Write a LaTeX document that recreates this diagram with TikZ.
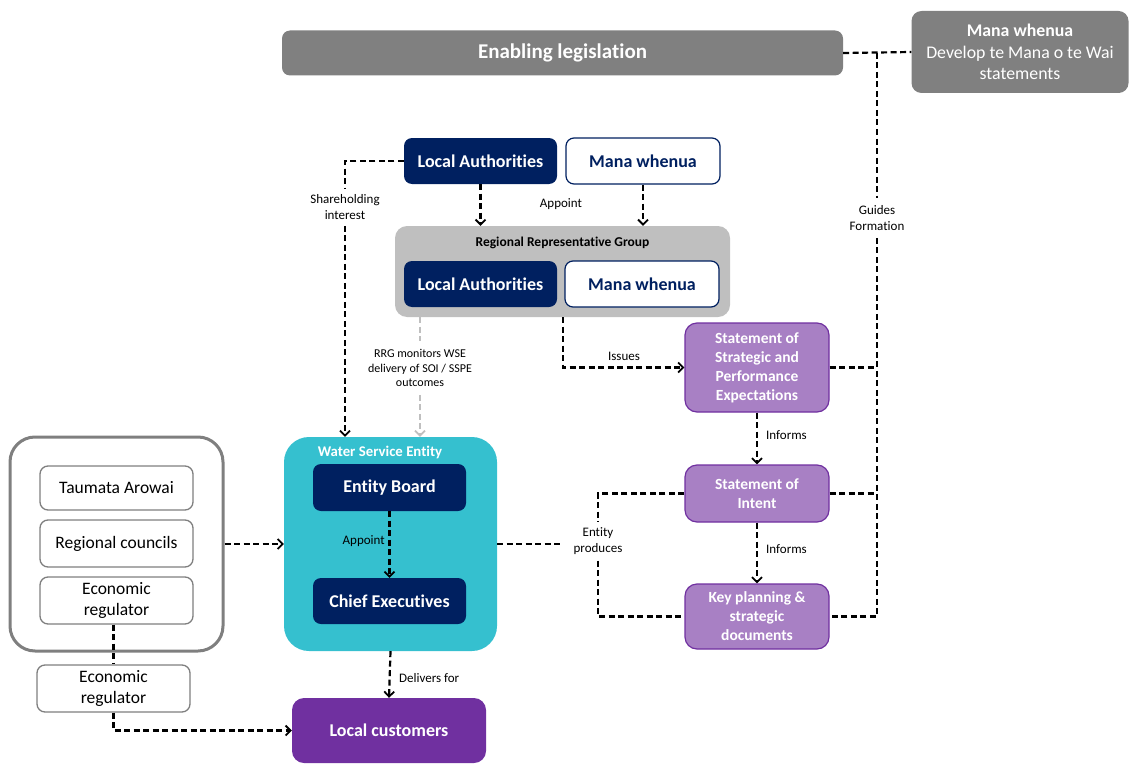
\documentclass[tikz,border=0pt]{standalone}
\usepackage{fontspec}
\setmainfont{Carlito}[Ligatures=NoCommon]
\usetikzlibrary{arrows.meta}
\definecolor{navy}{HTML}{002060}
\definecolor{leggray}{HTML}{808080}
\definecolor{rrggray}{HTML}{BFBFBF}
\definecolor{teal}{HTML}{35C0CF}
\definecolor{lpurple}{HTML}{A880C4}
\definecolor{dpurple}{HTML}{7030A0}
\definecolor{bgray}{HTML}{7F7F7F}
\begin{document}
\begin{tikzpicture}[x=1pt,y=-1pt,
  box/.style={rectangle, rounded corners=8pt, inner sep=2pt, align=center},
  graybox/.style={box, fill=leggray, text=white},
  navybox/.style={box, fill=navy, text=white, font=\bfseries\fontsize{18}{21}\selectfont},
  whitebox/.style={box, fill=white, draw=navy, line width=1.2pt, text=navy, font=\bfseries\fontsize{18}{21}\selectfont},
  purplebox/.style={box, rounded corners=12pt, fill=lpurple, draw=dpurple, line width=1.2pt, text=white, font=\bfseries\fontsize{15.5}{19}\selectfont},
  regbox/.style={box, fill=white, draw=bgray, line width=1.3pt, text=black, font=\fontsize{17.5}{21.5}\selectfont},
  lbl/.style={align=center, text=black, font=\fontsize{13}{16}\selectfont, inner sep=0pt},
  dl/.style={line width=2.2pt, dash pattern=on 6pt off 3.5pt},
  arr/.style={-{Straight Barb[length=5pt,width=10pt,line width=1.8pt]}}
]
\path[use as bounding box] (0,0) rectangle (1129,765);

% top
\node[graybox, minimum width=561pt, minimum height=45pt, font=\bfseries\fontsize{21}{24}\selectfont] (leg) at (562.5,53) {Enabling legislation};
\node[graybox, rounded corners=10pt, minimum width=217pt, minimum height=82pt, font=\fontsize{17.8}{21.5}\selectfont] (mwtr) at (1020,52) {\textbf{Mana whenua}\\Develop te Mana o te Wai\\statements};

% local authorities / mana whenua
\node[navybox, minimum width=153pt, minimum height=46pt] (latop) at (480.5,161) {Local Authorities};
\node[whitebox, minimum width=154pt, minimum height=46pt] (mwtop) at (643,161) {Mana whenua};

\node[box, rounded corners=12pt, fill=rrggray, minimum width=335pt, minimum height=91pt] (rrg) at (562.5,271.5) {};
\node[font=\bfseries\fontsize{13.5}{16}\selectfont, text=black] (rrgt) at (562.5,243) {Regional Representative Group};
\node[navybox, minimum width=153pt, minimum height=46pt] (lain) at (480.5,284) {Local Authorities};
\node[whitebox, minimum width=154pt, minimum height=46pt] (mwin) at (642,284) {Mana whenua};

% statements
\node[purplebox, minimum width=144pt, minimum height=89pt] (sspe) at (757,367.5) {Statement of\\Strategic and\\Performance\\Expectations};
\node[purplebox, minimum width=144pt, minimum height=57pt] (soi) at (757,493.5) {Statement of\\Intent};
\node[purplebox, minimum width=144pt, minimum height=65pt] (kp) at (757,616.5) {Key planning \&\\strategic\\documents};

% water service entity
\node[box, rounded corners=25pt, fill=teal, minimum width=213pt, minimum height=214pt] (wse) at (390.5,544) {};
\node[font=\bfseries\fontsize{14.8}{17}\selectfont, text=white] (wset) at (380,452) {Water Service Entity};
\node[navybox, minimum width=153pt, minimum height=47pt] (eb) at (389.5,487.5) {Entity Board};
\node[navybox, minimum width=153pt, minimum height=46pt] (ce) at (389.5,601) {Chief Executives};

% regulators group
\node[box, rounded corners=25pt, draw=bgray, line width=3pt, minimum width=213pt, minimum height=214pt] (grp) at (116.5,544) {};
\node[regbox, minimum width=153pt, minimum height=44pt] (ta) at (116.5,488) {Taumata Arowai};
\node[regbox, minimum width=153pt, minimum height=47pt] (rc) at (116.5,543.5) {Regional councils};
\node[regbox, minimum width=153pt, minimum height=47pt] (er) at (116.5,600.5) {Economic\\regulator};
\node[regbox, minimum width=153pt, minimum height=47pt] (er2) at (113.5,688.5) {Economic\\regulator};

\node[box, rounded corners=12pt, fill=dpurple, text=white, font=\bfseries\fontsize{18}{21}\selectfont, minimum width=194pt, minimum height=65pt] (lc) at (389,730.5) {Local customers};

% labels
\node[lbl, inner ysep=7pt] (guides) at (877,218) {Guides\\Formation};
\node[lbl, inner ysep=6pt] (share) at (345,207) {Shareholding\\interest};
\node[lbl] (appt) at (561,204) {Appoint};
\node[lbl, inner ysep=8pt, font=\fontsize{12}{14.5}\selectfont] (mon) at (420,368) {RRG monitors WSE\\delivery of SOI / SSPE\\outcomes};
\node[lbl] (iss) at (624,356) {Issues};
\node[lbl, anchor=west] (inf1) at (766,435) {Informs};
\node[lbl, anchor=west] (inf2) at (766,549) {Informs};
\node[lbl, inner xsep=12pt, inner ysep=6pt] (ep) at (598,541) {Entity\\produces};
\node[lbl, anchor=east] (appt2) at (385,541) {Appoint};
\node[lbl, anchor=west] (deliv) at (399,678) {Delivers for};

% connectors
\coordinate (g0) at (877,53);
\draw[dl] (leg.east) -- (mwtr.west);
\draw[dl] (g0) -- (guides.north);
\draw[dl] (guides.south) |- (kp.east);
\draw[dl] (sspe.east) -- (sspe.east -| g0);
\draw[dl] (soi.east) -- (soi.east -| g0);

\draw[dl] (latop.west) -| (share.north);
\draw[dl, arr] (share.south) -- (share.south |- wse.north);

\draw[dl, arr] (latop.south) -- (latop.south |- rrg.north);
\draw[dl, arr] (mwtop.south) -- (mwtop.south |- rrg.north);

\draw[dl, rrggray] (mon.north |- rrg.south) -- (mon.north);
\draw[dl, arr, rrggray] (mon.south) -- (mon.south |- wse.north);

\coordinate (issc) at (563,317);
\draw[dl, arr] (issc) |- (sspe.west);

\draw[dl, arr] (sspe.south) -- (soi.north);
\draw[dl, arr] (soi.south) -- (kp.north);

\draw[dl] (soi.west) -| (ep.north);
\draw[dl] (ep.south) |- (kp.west);
\draw[dl] (wse.east) -- (wse.east -| ep.west);

\draw[dl, arr] (eb.south) -- (ce.north);
\draw[dl, arr] (wse.south) -- (lc.north);

\draw[dl, arr] (grp.east) -- (wse.west);
\draw[dl] (er2.north |- er.south) -- (er2.north);
\draw[dl, arr] (er2.south) |- (lc.west);
\end{tikzpicture}
\end{document}
